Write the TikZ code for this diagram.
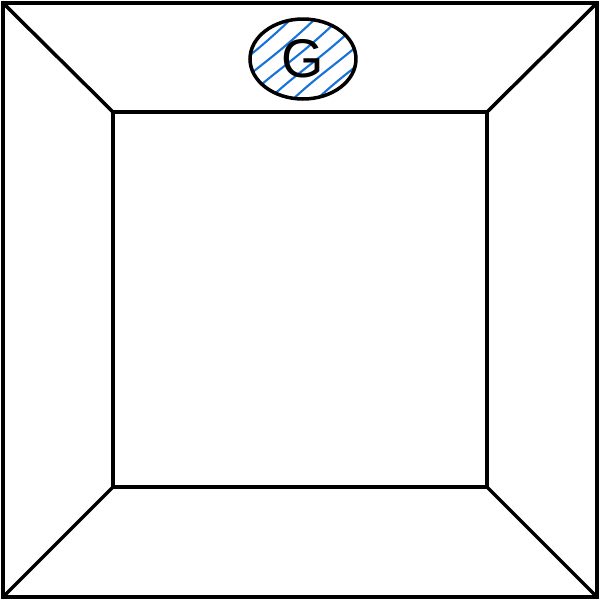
\documentclass[tikz,border=0pt]{standalone}
\usepackage{fontspec}
\setmainfont{Liberation Sans}
\usetikzlibrary{shapes.geometric}
\definecolor{hatchblue}{RGB}{25,115,215}
\tikzset{
  wall/.style={line width=2pt, line join=miter},
  hatch/.style={draw=hatchblue, line width=1.2pt, line cap=round},
  ring/.style={ellipse, draw, line width=2pt, inner sep=0pt,
    minimum width=2.12cm, minimum height=1.6cm},
}
\begin{document}
\begin{tikzpicture}[x=0.02cm, y=-0.02cm]
  \useasboundingbox (0,0) rectangle (600,600);
  % outer and inner squares
  \coordinate (O1) at (3,3); \coordinate (O2) at (597,3);
  \coordinate (O3) at (597,597); \coordinate (O4) at (3,597);
  \coordinate (I1) at (113,112); \coordinate (I2) at (487,112);
  \coordinate (I3) at (487,487); \coordinate (I4) at (113,487);
  \draw[wall] (O1) -- (O2) -- (O3) -- (O4) -- cycle;
  \draw[wall] (I1) -- (I2) -- (I3) -- (I4) -- cycle;
  \draw[wall] (O1) -- (I1) (O2) -- (I2) (O3) -- (I3) (O4) -- (I4);
  % hatched ellipse
  \coordinate (Gc) at (303,59);
  \begin{scope}[shift={(303,59)}]
    \clip (0,0) ellipse (52 and 39);
    \foreach \s in {-84,-60,...,84}
      \draw[hatch] (\s-48,42) .. controls (\s-14,10) and (\s+4,2) .. (\s+48,-40);
  \end{scope}
  \node[ring] (G) at (Gc) {\fontsize{31}{31}\selectfont G};
\end{tikzpicture}
\end{document}
